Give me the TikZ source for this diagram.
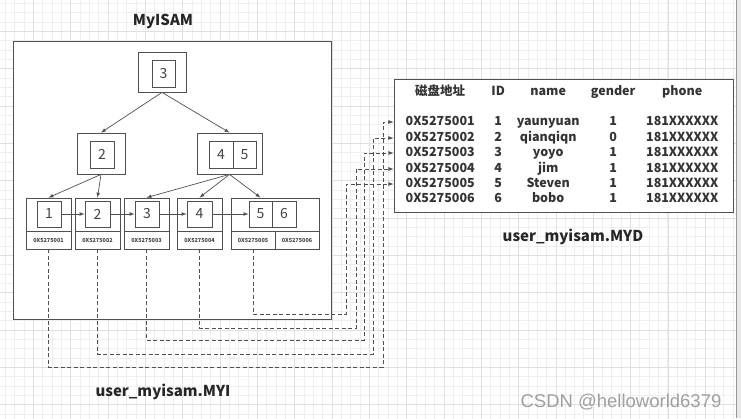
\documentclass[tikz,border=0pt]{standalone}
\usepackage{xcolor}
\usepackage{fontspec}
\usepackage{tikz}
\setmainfont{Noto Sans CJK SC}
\newfontfamily\markfont{Liberation Sans}
\usetikzlibrary{arrows}

\definecolor{linegray}{HTML}{505050}
\definecolor{txtgray}{HTML}{444444}
\definecolor{gridminor}{HTML}{EEEEEE}
\definecolor{gridmajor}{HTML}{E0E0E0}
\definecolor{stripgray}{HTML}{E8E8E8}

% one line of the data table, five fixed columns
\newcommand{\rowtext}[5]{\makebox[72pt][c]{#1}\makebox[44pt][c]{#2}\makebox[56pt][c]{#3}\makebox[74pt][c]{#4}\makebox[64pt][c]{#5}}

\begin{document}
\begin{tikzpicture}[x=1pt,y=-1pt,>=latex]
        \useasboundingbox (0,0) rectangle (741,418);
        % background grid
        \begin{scope}[shift={(-4,-6)}]
          \draw[gridminor,line width=0.6pt,step=9.33pt] (0,0) grid (750,430);
          \draw[gridmajor,line width=0.8pt,step=37.33pt] (0,0) grid (750,430);
        \end{scope}
        \fill[stripgray] (736,0) rectangle (741,418);
        \draw[linegray!60,line width=1pt] (736,0) -- (736,418);
        \begin{scope}[every node/.style={draw=linegray,line width=0.8pt,fill=white,inner sep=0pt}]
          \node[minimum width=318,minimum height=278] (myi) at (172,180) {};
          \node[minimum width=339,minimum height=133] (tbl) at (563.5,145.5) {};
        \end{scope}
        \begin{scope}[every node/.style={font=\fontsize{15}{18}\selectfont\bfseries,text=black!85}]
          \node (myisam) at (163,21) {MyISAM};
          \node (myilbl) at (163,392) {user\_myisam.MYI};
          \node (mydlbl) at (573,237) {user\_myisam.MYD};
        \end{scope}
        % index tree
        \begin{scope}[every node/.style={draw=linegray,line width=0.8pt,fill=white,inner sep=0pt,
            text=txtgray,font=\fontsize{14}{14}\selectfont}]
          \node[minimum width=48,minimum height=40] (n3) at (162,72) {};
          \node[minimum width=23,minimum height=27] (k3) at (163.5,73.5) {3};
          \node[minimum width=48,minimum height=41] (n2) at (101,153.5) {};
          \node[minimum width=24,minimum height=27] (k2) at (102,154.5) {2};
          \node[minimum width=65,minimum height=41] (n45) at (229.5,153.5) {};
          \node[minimum width=24,minimum height=27] (k4) at (221,154.5) {4};
          \node[minimum width=23,minimum height=27] (k5) at (244.5,154.5) {5};
          \node[minimum width=45,minimum height=33] (l1) at (48.5,214.5) {};
          \node[minimum width=45,minimum height=33] (l2) at (97.5,214.5) {};
          \node[minimum width=45,minimum height=33] (l3) at (146.5,214.5) {};
          \node[minimum width=45,minimum height=33] (l4) at (199.5,214.5) {};
          \node[minimum width=88,minimum height=33] (l56) at (275,214.5) {};
          \node[minimum width=24,minimum height=26] (lk1) at (49,214) {1};
          \node[minimum width=25,minimum height=26] (lk2) at (97.5,214) {2};
          \node[minimum width=24,minimum height=26] (lk3) at (147,214) {3};
          \node[minimum width=25,minimum height=26] (lk4) at (199.5,214) {4};
          \node[minimum width=23,minimum height=26] (lk5) at (260.5,214) {5};
          \node[minimum width=24,minimum height=26] (lk6) at (284,214) {6};
        \end{scope}
        \begin{scope}[every node/.style={draw=linegray,line width=0.8pt,fill=white,inner sep=0pt,
            minimum height=18,text=txtgray,font=\fontsize{5.5}{6}\selectfont\bfseries}]
          \node[minimum width=45] (a1) at (48.5,240) {0X5275001};
          \node[minimum width=45] (a2) at (97.5,240) {0X5275002};
          \node[minimum width=45] (a3) at (146.5,240) {0X5275003};
          \node[minimum width=45] (a4) at (199.5,240) {0X5275004};
          \node[minimum width=44] (a5) at (253,240) {0X5275005};
          \node[minimum width=44] (a6) at (297,240) {0X5275006};
        \end{scope}
        \begin{scope}[every edge/.style={draw=linegray,line width=0.7pt,->}]
          \path (n3.south) edge (n2.north);
          \path (n3.south) edge (n45.north);
          \path (n2.south) edge (l1.north);
          \path (n2.south) edge (l2.north);
          \path (n45.south) edge (l3.north);
          \path (n45.south) edge (l4.north);
          \path (n45.south) edge (lk5.north |- l56.north);
          \path (lk1.east) edge (lk2.west);
          \path (lk2.east) edge (lk3.west);
          \path (lk3.east) edge (lk4.west);
          \path (lk4.east) edge (lk5.west);
        \end{scope}
        % data file
        \begin{scope}[every node/.style={anchor=west,inner sep=0pt,text height=9pt,text depth=3pt,
            text=black!80,font=\fontsize{12.5}{14}\selectfont\bfseries}]
          \node (hdr) at (404,92) {\rowtext{磁盘地址}{ID}{name}{gender}{phone}};
          \node (r1) at (404,122) {\rowtext{0X5275001}{1}{yaunyuan}{1}{181XXXXXX}};
          \node (r2) at (404,138) {\rowtext{0X5275002}{2}{qianqiqn}{0}{181XXXXXX}};
          \node (r3) at (404,153) {\rowtext{0X5275003}{3}{yoyo}{1}{181XXXXXX}};
          \node (r4) at (404,169) {\rowtext{0X5275004}{4}{jim}{1}{181XXXXXX}};
          \node (r5) at (404,184) {\rowtext{0X5275005}{5}{Steven}{1}{181XXXXXX}};
          \node (r6) at (404,199) {\rowtext{0X5275006}{6}{bobo}{1}{181XXXXXX}};
        \end{scope}
        % links from index leaves to data rows
        \coordinate (c1) at (383,367);
        \coordinate (c2) at (373,354);
        \coordinate (c3) at (364,340);
        \coordinate (c4) at (356,328);
        \coordinate (c5) at (346,314);
        \begin{scope}[every path/.style={draw=linegray,line width=0.8pt,dash pattern=on 4pt off 2.5pt}]
          \draw[->] (a1.south) |- (c1) |- (tbl.west |- r1);
          \draw[->] (a2.south) |- (c2) |- (tbl.west |- r2);
          \draw[->] (a3.south) |- (c3) |- (tbl.west |- r3);
          \draw[->] (a4.south) |- (c4) |- (tbl.west |- r4);
          \draw[->] (a5.south) |- (c5) |- (tbl.west |- r5);
        \end{scope}
        \node[font=\markfont\fontsize{18.5}{22}\selectfont,text=gray!75] (mark) at (621,402) {CSDN @helloworld6379};
      \end{tikzpicture}
\end{document}
